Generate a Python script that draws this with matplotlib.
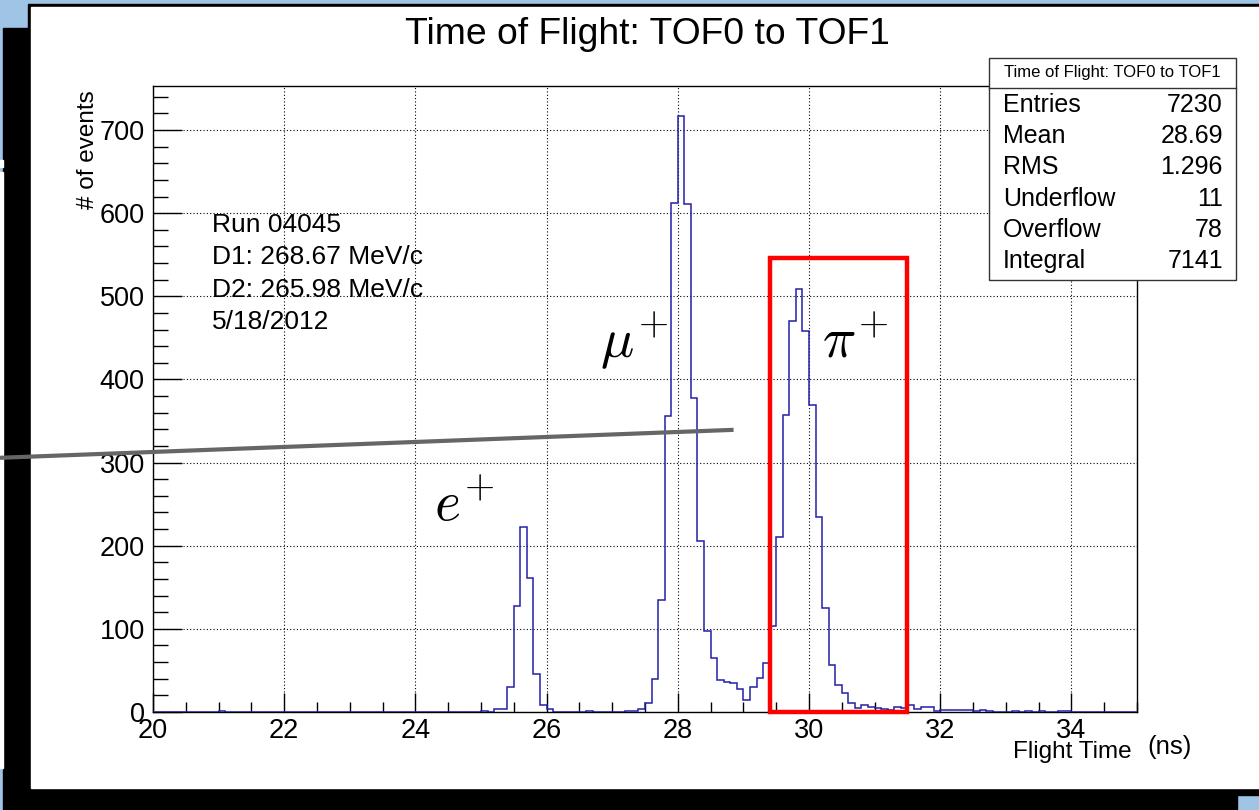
import numpy as np
import matplotlib.pyplot as plt
from matplotlib.patches import Rectangle

plt.rcParams['font.family'] = ['Liberation Sans', 'DejaVu Sans']
plt.rcParams['mathtext.fontset'] = 'cm'

# histogram: 150 bins of 0.1 ns from 20 to 35 (counts)
bin_lo, bin_hi, n_bins = 20.0, 35.0, 150
counts = [
    0, 0, 0, 0, 0, 0, 0, 0, 0, 0,
    1, 0, 0, 0, 0, 0, 0, 0, 0, 0,
    0, 0, 0, 0, 0, 0, 0, 0, 0, 0,
    0, 0, 0, 0, 0, 0, 0, 0, 0, 0,
    0, 0, 0, 0, 0, 0, 0, 0, 0, 0,
    1, 0, 4, 4, 30, 127, 223, 161, 46, 8,
    4, 0, 0, 0, 0, 0, 1, 0, 0, 0,
    0, 0, 1, 1, 4, 11, 40, 135, 356, 612,
    717, 611, 378, 206, 98, 65, 38, 36, 35, 28,
    15, 30, 41, 59, 103, 211, 357, 470, 509, 458,
    369, 234, 125, 57, 33, 23, 11, 5, 8, 6,
    5, 4, 3, 6, 5, 8, 4, 6, 6, 1,
    2, 2, 2, 3, 3, 1, 3, 1, 0, 0,
    0, 1, 0, 1, 0, 1, 0, 0, 1, 1,
    0, 0, 0, 0, 0, 0, 0, 0, 0, 0,
]

title = 'Time of Flight: TOF0 to TOF1'
run_info = ['Run 04045', 'D1: 268.67 MeV/c', 'D2: 265.98 MeV/c', '5/18/2012']
stat_names = ['Entries', 'Mean', 'RMS', 'Underflow', 'Overflow', 'Integral']
stat_values = ['7230', '28.69', '1.296', '11', '78', '7141']

# particle labels (x in ns, y in events)
particles = [(r'$e^{\!+}$', 24.29, 231), (r'$\mu^{\!+}$', 26.81, 426), (r'$\pi^{\!+}$', 30.2, 427)]
# pion selection window
pi_window = (29.4, 31.5, 546)
# grey pointer line drawn over the plot
pointer_x = [17.64, 28.85]
pointer_y = [305.7, 339.4]

W, H = 1259, 810
fig = plt.figure(figsize=(W / 100, H / 100), dpi=100)

# --- screenshot background (pixel coordinates) ---
bg = fig.add_axes([0, 0, 1, 1], zorder=0)
bg.set_xlim(0, W)
bg.set_ylim(H, 0)
bg.axis('off')
bg.add_patch(Rectangle((0, 0), W, H, color='#a0c4e6'))
bg.add_patch(Rectangle((3, 28), W - 3, 767, color='black'))
bg.add_patch(Rectangle((3, 795), 1234, 15, color='black'))
bg.add_patch(Rectangle((28, 4), W - 28, 784, color='black'))
bg.add_patch(Rectangle((31, 7), W - 31, 781, color='white'))
bg.add_patch(Rectangle((0, 172), 3, 596, color='white'))
bg.add_patch(Rectangle((0, 160), 3, 7, color='white'))

# --- main histogram axes ---
ax = fig.add_axes([153 / W, (H - 712) / H, (1137 - 153) / W, (712 - 86) / H], zorder=2)
ax.set_facecolor('white')
edges = np.linspace(bin_lo, bin_hi, n_bins + 1)
ax.stairs(counts, edges, color='#2020a8', lw=1.1, zorder=3)

ax.set_xlim(bin_lo, bin_hi)
ax.set_ylim(0, 753)
ax.set_xticks(np.arange(20, 35, 2))
ax.set_xticks(np.arange(20, 35.01, 0.5), minor=True)
ax.set_yticks(np.arange(0, 701, 100))
ax.set_yticks(np.arange(0, 753, 20), minor=True)
ax.tick_params(which='both', direction='in', width=1, colors='black',
               labelsize=19.5)
ax.tick_params(axis='x', which='major', length=13.5, pad=4)
ax.tick_params(axis='x', which='minor', length=7)
ax.tick_params(axis='y', which='major', length=21, pad=6)
ax.tick_params(axis='y', which='minor', length=11)
ax.grid(True, which='major', color='black', lw=0.8, ls=(0, (1, 2)))
for s in ax.spines.values():
    s.set_linewidth(1)

for txt, x, y in particles:
    ax.text(x, y, txt, fontsize=40, ha='left', va='baseline', zorder=5)

for k, line in enumerate(run_info):
    ax.text(20.9, 586 - 39 * k, line, fontsize=19, va='center', ha='left')

ax.add_patch(Rectangle((pi_window[0], 0), pi_window[1] - pi_window[0], pi_window[2],
                       fill=False, edgecolor='#ff0000', lw=3.2, clip_on=False, zorder=6))
ax.plot(pointer_x, pointer_y, color='#666666', lw=3, clip_on=False, zorder=7,
        solid_capstyle='butt')

# --- foreground: title, labels, stats box (pixel coordinates) ---
fg = fig.add_axes([0, 0, 1, 1], zorder=4)
fg.set_xlim(0, W)
fg.set_ylim(H, 0)
fg.axis('off')
fg.patch.set_alpha(0)

fg.text(647, 35, title, fontsize=26.8, ha='center', va='center')
fg.text(88, 90, '# of events', fontsize=17.5, rotation=90, ha='center', va='top')
fg.text(1132, 752, 'Flight Time', fontsize=17.5, ha='right', va='center')
fg.text(1147, 747, '(ns)', fontsize=18.5, ha='left', va='center')

fg.add_patch(Rectangle((989, 58), 247, 222, facecolor='white', edgecolor='#333333', lw=1))
fg.plot([989, 1236], [88, 88], color='#333333', lw=1)
fg.text(1112, 73, title, fontsize=12, ha='center', va='center')
for k, (nm, val) in enumerate(zip(stat_names, stat_values)):
    yy = 105 + 31.2 * k
    fg.text(1003, yy, nm, fontsize=18, ha='left', va='center')
    fg.text(1223, yy, val, fontsize=18, ha='right', va='center')

fig.savefig('out.png', dpi=100)
